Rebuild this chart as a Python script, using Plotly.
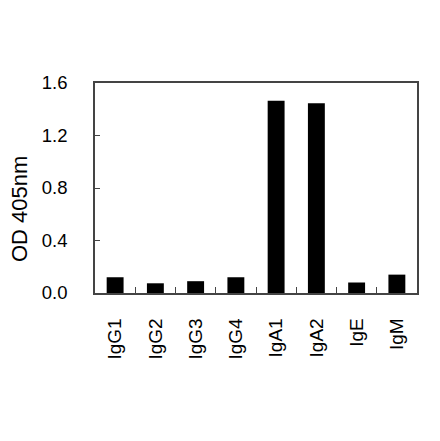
import plotly.graph_objects as go

isotypes = ["IgG1", "IgG2", "IgG3", "IgG4", "IgA1", "IgA2", "IgE", "IgM"]
od405 = [0.12, 0.074, 0.09, 0.12, 1.465, 1.445, 0.08, 0.14]
y_ticks = [0.0, 0.4, 0.8, 1.2, 1.6]
y_labels = ["0.0", "0.4", "0.8", "1.2", "1.6"]

fnt = "Arial, Liberation Sans, sans-serif"

fig = go.Figure()
fig.add_trace(go.Bar(x=isotypes, y=od405, marker_color="black",
                     marker_line_width=0, width=0.42))

# page body adds ~8px offset, so the figure is shrunk by that much
fig.update_layout(
    width=432, height=433,
    margin=dict(l=87, r=23, t=75, b=148),
    plot_bgcolor="white", paper_bgcolor="white",
    showlegend=False,
    font=dict(family=fnt, color="black", size=18),
)
fig.update_xaxes(
    showline=True, linecolor="#444", linewidth=1.5, mirror=True,
    ticks="inside", tickson="boundaries", ticklen=6, tickcolor="#444",
    tickangle=-90, tickfont=dict(size=19), ticklabelstandoff=16,
    showgrid=False,
)
fig.update_yaxes(
    range=[0, 1.6], tickvals=y_ticks, ticktext=y_labels,
    showline=True, linecolor="#444", linewidth=1.5, mirror=True,
    ticks="inside", ticklen=5, tickcolor="#444",
    tickfont=dict(size=18.5), ticklabelstandoff=22,
    showgrid=False, zeroline=False,
)
fig.add_annotation(text="OD 405nm", xref="paper", yref="paper",
                   x=-0.236, y=0.4, xanchor="center", yanchor="middle",
                   textangle=-90, showarrow=False,
                   font=dict(size=22, family=fnt))

fig.write_html("out.html")
